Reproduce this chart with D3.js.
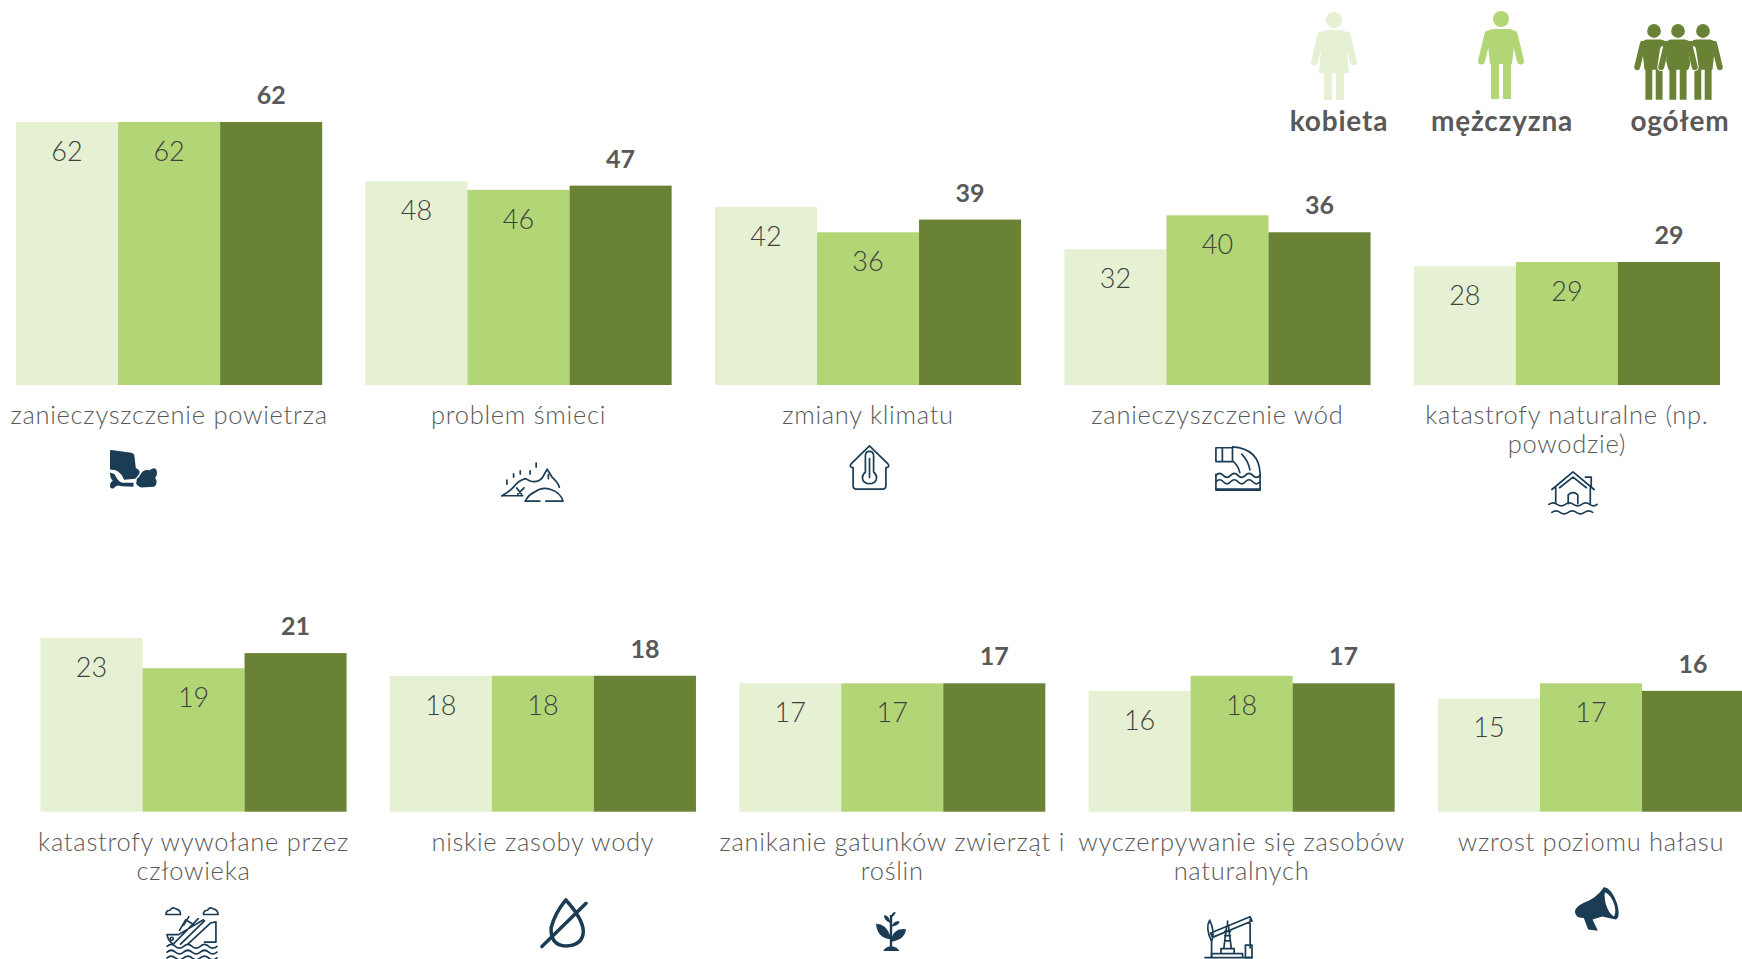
<!DOCTYPE html>
<html lang="pl">
<head>
<meta charset="utf-8">
<title>Problemy środowiskowe</title>
<script src="https://cdn.jsdelivr.net/npm/d3@7"></script>
<style>
  html, body { margin: 0; padding: 0; background: #fff; overflow: hidden; }
  svg { display: block; }
  text { font-family: "Lato", "Open Sans", sans-serif; fill: #595959; }
  .cat { font-size: 25.5px; font-weight: 300; text-anchor: middle; letter-spacing: 0.72px; }
  .val { font-size: 27px; font-weight: 300; text-anchor: middle; fill: #404040; }
  .tot { font-size: 25px; font-weight: 700; text-anchor: middle; }
  .leg { font-size: 28px; font-weight: 700; text-anchor: middle; letter-spacing: 0.8px; }
</style>
</head>
<body>
<svg id="chart" width="1742" height="959"></svg>
<script>
/* Values */
var seriesNames = ["kobieta", "mężczyzna", "ogółem"];
var seriesColors = ["#e6f0d2", "#b2d675", "#6a8235"];

var topCategories = ["zanieczyszczenie powietrza", "problem śmieci", "zmiany klimatu", "zanieczyszczenie wód", "katastrofy naturalne (np.\npowodzie)"];
var topKobieta = [62, 48, 42, 32, 28];
var topMezczyzna = [62, 46, 36, 40, 29];
var topOgolem = [62, 47, 39, 36, 29];

var bottomCategories = ["katastrofy wywołane przez\nczłowieka", "niskie zasoby wody", "zanikanie gatunków zwierząt i\nroślin", "wyczerpywanie się zasobów\nnaturalnych", "wzrost poziomu hałasu"];
var bottomKobieta = [23, 18, 17, 16, 15];
var bottomMezczyzna = [19, 18, 17, 18, 17];
var bottomOgolem = [21, 18, 17, 17, 16];

/* Small pictograms under the categories, drawn in a 100x100 box */
var iconColor = "#1a3c54";
var icons = {
    air: [
        { fill: "M0,2 Q0,0 3,0 L45,7 Q52,9 52,16 L55,47 Q66,52 62,62 L54,74 L30,76 Q24,58 12,52 L0,50 Z" },
        { fill: "M0,58 L10,62 Q16,80 26,84 L50,84 L50,94 L24,93 Q14,88 8,98 Q0,102 0,90 Q0,84 6,78 Q0,74 0,58 Z" },
        { fill: "M57,74 Q62,70 66,60 Q72,48 84,52 Q96,42 99,52 Q102,62 96,72 Q104,84 94,94 L66,96 Q54,90 56,84 Z" }
    ],
    trash: [
        { line: "M0,84 Q12,74 20,60 Q26,46 38,40 L46,46 Q58,52 66,38 L74,16 L82,36 Q92,50 94,62" },
        { line: "M38,98 Q44,80 54,74 Q66,60 80,68 Q96,76 100,98 H72 M62,98 H38 M0,84 H34" },
        { line: "M8,44 V54 M19,28 V36 M30,20 V28 M46,20 V28 M56,0 V10 M76,30 V40 M24,64 L32,80 M36,64 L26,80" }
    ],
    thermometer: [
        { line: "M50,2 L95,42 Q100,48 92,50 L90,50 V90 Q90,98 82,98 H18 Q10,98 10,90 V50 H8 Q0,48 5,42 Z" },
        { line: "M40,24 Q40,14 50,14 Q60,14 60,24 V60 Q70,68 66,78 Q62,86 50,86 Q38,86 34,78 Q30,68 40,60 Z M50,30 V72" }
    ],
    pipe: [
        { line: "M2,6 H38 V36 H2 Z M16,6 V36 M38,4 Q96,8 98,62 V98 H2 V64" },
        { line: "M40,36 Q50,44 54,60 M58,20 Q72,34 76,54" },
        { line: "M2,66 q8,-9 16,0 t16,0 t16,0 t16,0 t16,0 t16,0 M2,80 q8,-9 16,0 t16,0 t16,0 t16,0 t16,0 t16,0 M2,96 H98" }
    ],
    flood: [
        { line: "M6,42 L50,2 L94,42 M22,38 L50,14 L78,38 M76,14 H88 V36 M14,38 V74 M86,38 V74 M40,74 V54 Q50,44 60,54 V74" },
        { line: "M0,76 q8.5,-7 17,0 t17,0 t17,0 t17,0 t17,0 t15,0 M6,94 q8.5,-7 17,0 t17,0 t17,0 t17,0 t17,0" }
    ],
    ship: [
        { line: "M0,16 Q0,8 8,8 Q12,0 20,6 Q28,8 28,16 Z M72,16 Q72,8 80,8 Q84,0 92,6 Q100,8 100,16 Z" },
        { line: "M2,54 H24 L72,26 M2,54 Q4,66 14,72 M14,72 L62,24 M28,72 L74,28 M42,72 L86,32 L96,30 V68 H74 M26,46 L38,26 L54,36 M34,36 L44,20" },
        { line: "M2,76 q8,-7 16,0 t16,0 t16,0 t16,0 t16,0 t16,0 M2,87 q8,-7 16,0 t16,0 t16,0 t16,0 t16,0 t16,0 M2,98 q8,-7 16,0 t16,0 t16,0 t16,0 t16,0 t16,0" },
        { dot: [11, 62, 3] }
    ],
    drop: [
        { line: "M54,2 Q30,30 22,60 Q20,96 54,98 Q92,96 92,66 Q90,40 54,2 Z M2,99 L98,9", width: 3.5 }
    ],
    plant: [
        { fill: "M46,100 V8 H54 V100 Z M24,100 Q30,90 50,88 Q72,90 78,100 Z" },
        { fill: "M48,70 Q4,66 0,30 Q34,30 48,62 Z M52,76 Q96,70 100,44 Q62,40 52,66 Z M48,28 Q22,20 28,8 Q44,10 48,28 Z M52,38 Q80,34 78,24 Q58,22 52,38 Z M52,14 Q64,8 66,0 Q52,0 50,14 Z" }
    ],
    pump: [
        { line: "M0,99 H100 M14,99 V90 H80 V99 M34,90 V78 H62 V90 M40,78 L46,26 M56,78 L50,26 M42,60 H54 M42,48 H54 M42,38 H54" },
        { line: "M12,42 L96,4 L100,14 L16,52 Z M96,10 V76 M86,70 H100 V99 H86 Z M10,12 Q0,30 14,62 Q22,40 10,12 Z M14,62 V99 M48,26 V14" }
    ],
    megaphone: [
        { fill: "M66,0 Q84,4 96,46 Q104,84 92,88 L62,80 L40,88 L52,118 L30,115 L20,84 Q2,84 0,68 Q0,54 18,44 Q50,30 66,0 Z" },
        { hole: "M68,14 Q82,20 90,50 Q94,72 88,80 Q76,70 70,46 Q66,26 68,14 Z" }
    ]
};

var svg = d3.select("#chart");

/* Draws one pictogram inside the given box */
function drawIcon(name, box) {
    var g = svg.append("g")
        .attr("transform", "translate(" + box[0] + "," + box[1] + ") scale(" + box[2] / 100 + "," + box[3] / 100 + ")");
    icons[name].forEach(function(part) {
        if (part.fill) {
            g.append("path").attr("d", part.fill).attr("fill", iconColor);
        } else if (part.hole) {
            g.append("path").attr("d", part.hole).attr("fill", "#fff");
        } else if (part.dot) {
            g.append("circle").attr("cx", part.dot[0]).attr("cy", part.dot[1]).attr("r", part.dot[2])
                .attr("fill", "none").attr("stroke", iconColor).attr("stroke-width", 1.6)
                .attr("vector-effect", "non-scaling-stroke");
        } else {
            g.append("path").attr("d", part.line).attr("fill", "none").attr("stroke", iconColor)
                .attr("stroke-width", part.width || 1.7).attr("stroke-linejoin", "round").attr("stroke-linecap", "round")
                .attr("vector-effect", "non-scaling-stroke");
        }
    });
}

/* One row of grouped bars, with its category labels and value labels */
function drawRow(categories, values, xRange, yRange, yMax, labelY) {
    var x0 = d3.scaleBand().domain(categories).range(xRange).paddingInner(0.1238).paddingOuter(0);
    var x1 = d3.scaleBand().domain(seriesNames).range([0, x0.bandwidth()]);
    var y = d3.scaleLinear().domain([0, yMax]).range(yRange);

    var groups = svg.append("g").selectAll("g")
        .data(categories)
        .enter().append("g")
        .attr("transform", function(d) { return "translate(" + x0(d) + ",0)"; });

    groups.each(function(category, i) {
        var g = d3.select(this);
        var rows = seriesNames.map(function(name, s) { return { name: name, value: values[s][i], color: seriesColors[s] }; });

        g.selectAll("rect")
            .data(rows)
            .enter().append("rect")
            .attr("x", function(d) { return x1(d.name); })
            .attr("y", function(d) { return y(d.value); })
            .attr("width", x1.bandwidth())
            .attr("height", function(d) { return y(0) - y(d.value); })
            .attr("fill", function(d) { return d.color; });

        // Women and men get the number inside the bar, the total sits above it
        g.selectAll("text.num")
            .data(rows)
            .enter().append("text")
            .attr("class", function(d) { return d.name == "ogółem" ? "num tot" : "num val"; })
            .attr("x", function(d) { return x1(d.name) + x1.bandwidth() / 2; })
            .attr("y", function(d) { return d.name == "ogółem" ? y(d.value) - 18 : y(d.value) + 39; })
            .text(function(d) { return d.value; });

        var label = g.append("text").attr("class", "cat")
            .attr("x", x0.bandwidth() / 2)
            .attr("y", labelY);
        category.split("\n").forEach(function(line, n) {
            label.append("tspan")
                .attr("x", x0.bandwidth() / 2)
                .attr("dy", n == 0 ? 0 : 29)
                .text(line);
        });
    });
}

drawRow(topCategories, [topKobieta, topMezczyzna, topOgolem], [16, 1720], [385, 122], 62, 424);
drawRow(bottomCategories, [bottomKobieta, bottomMezczyzna, bottomOgolem], [40.5, 1744], [811.7, 638], 23, 851);

drawIcon("air", [110, 450, 47, 39]);
drawIcon("trash", [502, 463, 61, 39]);
drawIcon("thermometer", [849, 445, 41, 45]);
drawIcon("pipe", [1215, 445, 46, 46]);
drawIcon("flood", [1549, 471, 48, 44]);
drawIcon("ship", [166, 906, 52, 53]);
drawIcon("drop", [541, 899, 46, 48]);
drawIcon("plant", [876, 912, 30, 39]);
drawIcon("pump", [1205, 915, 47, 43]);
drawIcon("megaphone", [1575, 887, 44, 37]);

/* Legend figures */
function person(cx, top, k, color, skirt) {
    var g = svg.append("g").attr("transform", "translate(" + cx + "," + top + ") scale(" + k + ")");
    g.append("circle").attr("cx", 0).attr("cy", 0).attr("r", 8).attr("fill", color);
    var body = skirt
        ? "M-8,10 H8 Q12,10 12,18 L15,53 H10 V80 H2 V53 H-2 V80 H-10 V53 H-15 L-12,18 Q-12,10 -8,10 Z"
        : "M-8,10 H8 Q14,10 14,18 L11,45 H10 V80 H2 V45 H-2 V80 H-10 V45 H-11 L-14,18 Q-14,10 -8,10 Z";
    g.append("path").attr("d", body).attr("fill", color);
    [-1, 1].forEach(function(side) {
        g.append("line")
            .attr("x1", side * 16.5).attr("y1", 22)
            .attr("x2", side * 19.5).attr("y2", 42)
            .attr("stroke", "#fff").attr("stroke-width", 9).attr("stroke-linecap", "round");
        g.append("line")
            .attr("x1", side * 13).attr("y1", 15)
            .attr("x2", side * 19.5).attr("y2", 42)
            .attr("stroke", color).attr("stroke-width", 7).attr("stroke-linecap", "round");
    });
}

person(1334, 20, 1, seriesColors[0], true);
person(1501, 19, 1, seriesColors[1], false);
person(1654, 31, 0.86, seriesColors[2], false);
person(1703, 31, 0.86, seriesColors[2], false);
person(1678, 31, 0.86, seriesColors[2], false);

svg.append("g").selectAll("text")
    .data(seriesNames)
    .enter().append("text")
    .attr("class", "leg")
    .attr("x", function(d, i) { return [1339, 1502, 1680][i]; })
    .attr("y", 131)
    .text(function(d) { return d; });
</script>
</body>
</html>
